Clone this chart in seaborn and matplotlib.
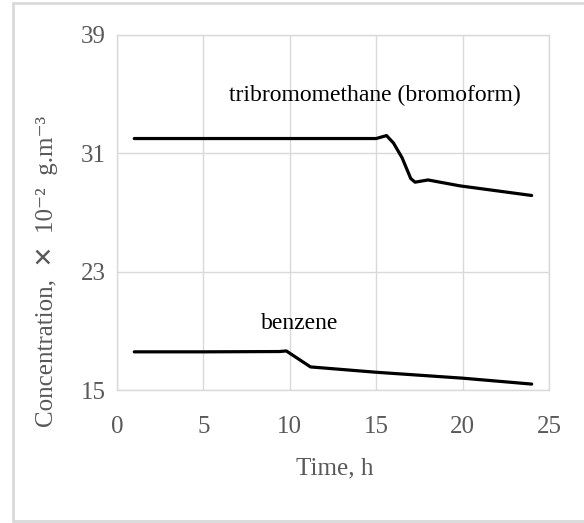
import matplotlib
matplotlib.use("Agg")
import matplotlib.pyplot as plt
import seaborn as sns
import pandas as pd
from matplotlib.lines import Line2D

# ---- data ----
time_tbm = [1, 5, 10, 15, 15.6, 16.0, 16.5, 17.0, 17.25, 18.0, 19.85, 24]
conc_tbm = [32.0, 32.0, 32.0, 32.0, 32.2, 31.7, 30.7, 29.3, 29.05, 29.2, 28.8, 28.15]
time_benz = [1, 5, 9.4, 9.8, 10.5, 11.2, 15, 20, 24]
conc_benz = [17.58, 17.58, 17.6, 17.64, 17.1, 16.56, 16.2, 15.8, 15.4]
x_ticks = [0, 5, 10, 15, 20, 25]
y_ticks = [15, 23, 31, 39]
label_tbm = "tribromomethane (bromoform)"
label_benz = "benzene"

sns.set_theme(style="white")
plt.rcParams['font.family'] = ['Liberation Serif', 'DejaVu Sans']

fig = plt.figure(figsize=(5.84, 5.23), dpi=100)
ax = fig.add_axes([0.2003, 0.2543, 0.7397, 0.6788])

df_t = pd.DataFrame({"t": time_tbm, "c": conc_tbm})
df_b = pd.DataFrame({"t": time_benz, "c": conc_benz})
sns.lineplot(data=df_t, x="t", y="c", ax=ax, color="black", linewidth=2.3, sort=False)
sns.lineplot(data=df_b, x="t", y="c", ax=ax, color="black", linewidth=2.3, sort=False)

ax.set_xlim(0, 25)
ax.set_ylim(15, 39)
ax.set_xticks(x_ticks)
ax.set_yticks(y_ticks)
ax.grid(True, color="#d9d9d9", linewidth=1.0)
ax.set_axisbelow(True)
for s in ax.spines.values():
    s.set_color("#d9d9d9")
    s.set_linewidth(1.0)
ax.tick_params(axis="both", length=0, labelsize=18, colors="#595959")
ax.tick_params(axis="y", pad=8)
ax.tick_params(axis="x", pad=19)

ax.set_xlabel("Time, h", fontsize=18, color="#595959")
ax.xaxis.set_label_coords(0.505, -0.19)
ax.set_ylabel("Concentration,  ✕  10⁻²  g.m⁻³", fontsize=18, color="#595959", va="center")
ax.yaxis.set_label_coords(-0.162, 0.335)

ax.text(14.9, 34.9, label_tbm, fontsize=17, color="black", ha="center", va="center")
ax.text(10.6, 19.5, label_benz, fontsize=17, color="black", ha="center", va="center")

# outer chart border (top, left, bottom)
W, H = 584, 523
bc = "#d9d9d9"
fig.add_artist(Line2D([13 / W, 1.0], [1 - 3 / H, 1 - 3 / H], color=bc, linewidth=2, transform=fig.transFigure))
fig.add_artist(Line2D([13 / W, 13 / W], [1 - 3 / H, 1 - 521 / H], color=bc, linewidth=2, transform=fig.transFigure))
fig.add_artist(Line2D([13 / W, 1.0], [1 - 521 / H, 1 - 521 / H], color=bc, linewidth=2, transform=fig.transFigure))

fig.savefig("out.png", dpi=100)
